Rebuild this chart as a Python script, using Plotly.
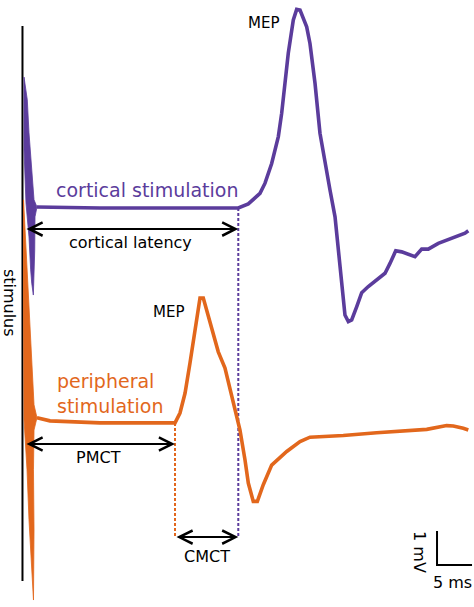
import plotly.graph_objects as go

# time in ms, amplitude in mV (relative to each trace's own baseline)
PURPLE = '#5b3c9c'
ORANGE = '#e2671c'

cort_base = 0.0
peri_base = -6.32

# stimulus artefact outline, cortical stimulation
cort_art_t = [-0.14, 0.33, 0.57, 0.96, 1.29, 1.71, 1.43, 1.39, 1.33, 1.29, 1.19, 0.96, 0.81, 0.57, 0.14, -0.14, -0.14]
cort_art_v = [3.85, 3.18, 2.21, 1.21, 0.24, 0.03, -0.26, -1.24, -1.74, -2.21, -2.56, -2.21, -1.82, -0.85, 0.15, 1.71, 3.85]

# cortical trace: baseline then MEP
cort_t = [1.71, 10.71, 30.47, 31.9, 33.57, 34.29, 35.24, 36.19, 36.67, 37.14, 37.61, 38.33, 38.81, 39.29,
          40.24, 40.71, 41.43, 42.14, 42.86, 43.57, 44.29, 44.76, 45.24, 45.71, 46.19, 46.67, 47.39, 48.1,
          49.04, 50.24, 51.43, 52.14, 52.96, 53.81, 55.71, 56.67, 57.61, 59.04, 60.47, 61.9, 62.86, 63.33]
cort_v = [0.03, 0.0, 0.0, 0.12, 0.43, 0.73, 1.31, 2.10, 2.79, 3.67, 4.55, 5.53, 5.84, 5.82,
          5.33, 4.84, 3.67, 2.20, 1.31, 0.53, -0.26, -1.24, -2.41, -3.15, -3.34, -3.29, -2.90, -2.49,
          -2.31, -2.12, -1.92, -1.63, -1.26, -1.29, -1.43, -1.21, -1.21, -1.04, -0.92, -0.81, -0.74, -0.67]

# stimulus artefact outline, peripheral stimulation
peri_art_t = [-0.21, 0.14, 0.43, 0.71, 1.0, 1.29, 1.71, 1.29, 1.21, 1.29, 1.21, 0.86, 0.57, 0.29, 0.0, -0.14, -0.21, -0.21]
peri_art_v = [6.56, 5.09, 4.06, 3.03, 1.56, 0.53, 0.15, -0.21, -1.38, -3.15, -5.21, -4.03, -2.85, -1.38, -0.5, 0.09, 3.62, 6.56]

# peripheral trace: baseline then MEP
peri_t = [1.71, 3.57, 10.71, 21.43, 22.14, 22.86, 23.57, 24.29, 25.0, 25.47, 26.19, 26.9, 27.61, 28.57,
          29.29, 30.0, 30.71, 31.43, 31.9, 32.61, 33.19, 34.04, 35.24, 37.39, 39.29, 40.71, 45.47, 50.24,
          57.39, 60.24, 61.19, 62.61, 63.33]
peri_v = [0.15, 0.06, 0.0, 0.0, 0.29, 0.87, 1.76, 2.74, 3.67, 3.67, 3.13, 2.64, 2.09, 1.61,
          0.97, 0.38, -0.21, -1.09, -1.77, -2.31, -2.31, -1.82, -1.24, -0.84, -0.55, -0.42, -0.37, -0.29,
          -0.19, -0.08, -0.09, -0.16, -0.21]

cort_latency = 30.47   # ms
pmct = 21.43           # ms
stim_t = -0.36
stim_top, stim_bottom = 5.35, -10.97
latency_y, pmct_y, cmct_y = -0.62, -6.94, -9.68
bar_t, bar_v = 58.86, -10.5   # scale bar corner
bar_ms, bar_mv = 5, 1

fig = go.Figure()

# stimulus line
fig.add_trace(go.Scatter(x=[stim_t, stim_t], y=[stim_top, stim_bottom], mode='lines',
                         line=dict(color='black', width=2), hoverinfo='skip'))

# dashed latency markers
fig.add_trace(go.Scatter(x=[cort_latency, cort_latency], y=[cort_base, cmct_y], mode='lines',
                         line=dict(color=PURPLE, width=2, dash='3px,2px'), hoverinfo='skip'))
fig.add_trace(go.Scatter(x=[pmct, pmct], y=[peri_base, cmct_y], mode='lines',
                         line=dict(color=ORANGE, width=2, dash='3px,2px'), hoverinfo='skip'))

# peripheral
fig.add_trace(go.Scatter(x=peri_art_t, y=[v + peri_base for v in peri_art_v], mode='lines',
                         fill='toself', fillcolor=ORANGE, line=dict(color=ORANGE, width=0.8)))
fig.add_trace(go.Scatter(x=peri_t, y=[v + peri_base for v in peri_v], mode='lines',
                         line=dict(color=ORANGE, width=3.6)))

# cortical
fig.add_trace(go.Scatter(x=cort_art_t, y=[v + cort_base for v in cort_art_v], mode='lines',
                         fill='toself', fillcolor=PURPLE, line=dict(color=PURPLE, width=0.8)))
fig.add_trace(go.Scatter(x=cort_t, y=[v + cort_base for v in cort_v], mode='lines',
                         line=dict(color=PURPLE, width=3.6)))

# scale bar
fig.add_trace(go.Scatter(x=[bar_t, bar_t, bar_t + bar_ms], y=[bar_v + bar_mv, bar_v, bar_v], mode='lines',
                         line=dict(color='black', width=2)))

FONT = 'DejaVu Sans'


def dbl_arrow(x0, x1, y):
    fig.add_annotation(x=x1, y=y, ax=x0, ay=y, xref='x', yref='y', axref='x', ayref='y',
                       text='', showarrow=True, arrowside='end+start', arrowhead=5, startarrowhead=5,
                       arrowsize=1.3, startarrowsize=1.3, arrowwidth=2, arrowcolor='black',
                       standoff=0, startstandoff=0)


dbl_arrow(0, cort_latency, latency_y)
dbl_arrow(0, pmct, pmct_y)
dbl_arrow(pmct, cort_latency, cmct_y)


def label(x, y, text, size, color='black', angle=0, xanchor='center'):
    fig.add_annotation(x=x, y=y, xref='x', yref='y', text=text, showarrow=False, textangle=angle,
                       xanchor=xanchor, yanchor='middle', align='left',
                       font=dict(family=FONT, size=size, color=color))


label(34.0, 5.44, 'MEP', 15)
label(17.57, 0.53, 'cortical stimulation', 19, PURPLE)
label(15.0, -1.0, 'cortical latency', 16)
label(20.43, -3.06, 'MEP', 15)
label(4.29, -5.47, 'peripheral<br>stimulation', 19, ORANGE, xanchor='left')
label(10.43, -7.35, 'PMCT', 16)
label(26.0, -10.26, 'CMCT', 16)
label(-2.29, -2.79, 'stimulus', 16, angle=90)
label(56.43, -10.12, '1 mV', 16, angle=90)
label(61.0, -11.0, '5 ms', 16)

fig.update_layout(
    width=474, height=607,
    margin=dict(l=0, r=0, t=0, b=0),
    paper_bgcolor='white', plot_bgcolor='white',
    showlegend=False,
    xaxis=dict(range=[-25 / 7, 449 / 7], visible=False, fixedrange=True),
    yaxis=dict(range=[-399 / 34, 208 / 34], visible=False, fixedrange=True),
)

# drop the default page margin so the figure sits at the window's corner
fig.write_html("out.html", config={'displayModeBar': False},
               post_script="document.body.style.margin='0';")
